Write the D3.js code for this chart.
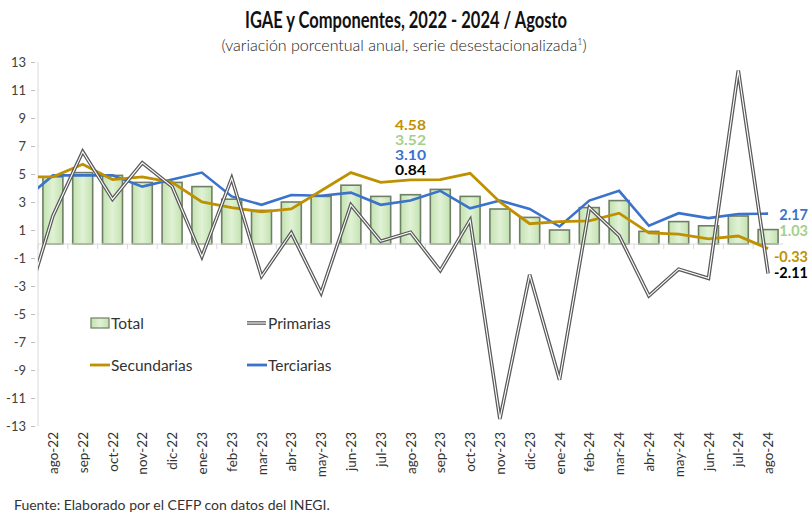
<!DOCTYPE html>
<html>
<head>
<meta charset="utf-8">
<script src="https://cdn.jsdelivr.net/npm/d3@7"></script>
<style>
  body { margin: 0; background: #fff; }
  svg text { font-family: "Lato", "Open Sans", sans-serif; }
</style>
</head>
<body>
<div id="chart"></div>
<script>
// meses (ago-22 .. ago-24)
var months = ["ago-22","sep-22","oct-22","nov-22","dic-22","ene-23","feb-23","mar-23","abr-23","may-23",
  "jun-23","jul-23","ago-23","sep-23","oct-23","nov-23","dic-23","ene-24","feb-24","mar-24",
  "abr-24","may-24","jun-24","jul-24","ago-24"];

// IGAE total (barras)
var total = [4.8, 5.1, 4.9, 4.4, 4.4, 4.1, 3.2, 2.4, 3.0, 3.4,
  4.2, 3.4, 3.52, 3.9, 3.4, 2.5, 1.9, 1.0, 2.6, 3.1,
  0.9, 1.6, 1.3, 2.0, 1.03];

// lineas: primer valor = jul-22 (sale recortado por el borde izquierdo)
var primarias = [-5.0, 2.0, 6.6, 3.2, 5.8, 4.1, -0.9, 4.7, -2.3, 0.8, -3.5,
  2.8, 0.2, 0.84, -1.9, 1.7, -12.5, -2.2, -9.7, 2.6, 0.6,
  -3.7, -1.8, -2.45, 12.4, -2.11];
var secundarias = [4.8, 4.8, 5.7, 4.6, 4.8, 4.4, 3.0, 2.6, 2.3, 2.5, 3.8,
  5.1, 4.4, 4.58, 4.6, 5.05, 3.0, 1.45, 1.6, 1.65, 2.2,
  0.8, 0.7, 0.36, 0.57, -0.33];
var terciarias = [3.1, 4.9, 4.9, 4.9, 4.1, 4.6, 5.1, 3.4, 2.8, 3.5, 3.45,
  3.67, 2.8, 3.10, 3.8, 2.55, 3.1, 2.5, 1.25, 3.1, 3.8,
  1.3, 2.2, 1.85, 2.14, 2.17];

var yTicks = [13, 11, 9, 7, 5, 3, 1, -1, -3, -5, -7, -9, -11, -13];

var W = 812, H = 514;
var C_GOLD = "#bf9000", C_BLUE = "#3a72cc", C_GREEN_TXT = "#a3d08a", C_DARK = "#595959";

var svg = d3.select("#chart").append("svg")
  .attr("width", W)
  .attr("height", H);

var defs = svg.append("defs");
var grad = defs.append("linearGradient")
  .attr("id", "barGrad")
  .attr("x1", 0).attr("x2", 1).attr("y1", 0).attr("y2", 0);
grad.append("stop").attr("offset", "0%").attr("stop-color", "#c3e2b0");
grad.append("stop").attr("offset", "50%").attr("stop-color", "#e0f2d5");
grad.append("stop").attr("offset", "100%").attr("stop-color", "#c3e2b0");

var left = 38, right = 783;

var x = d3.scaleBand()
  .domain(months)
  .range([left, right])
  .paddingInner(0.33)
  .paddingOuter(0.165);

var y = d3.scaleLinear()
  .domain([-13, 13])
  .range([426, 62]);

var step = x.step();
function cx(i) {
  // i = 0 es jul-22, un paso antes del primer mes
  if (i === 0) return x(months[0]) + x.bandwidth() / 2 - step;
  return x(months[i - 1]) + x.bandwidth() / 2;
}

defs.append("clipPath").attr("id", "plotClip")
  .append("rect")
  .attr("x", left).attr("y", 40)
  .attr("width", W - left).attr("height", 420);

// titulo
svg.append("text")
  .attr("x", 406).attr("y", 28)
  .attr("text-anchor", "middle")
  .attr("textLength", 322)
  .attr("lengthAdjust", "spacingAndGlyphs")
  .style("font-size", "22px")
  .style("font-weight", 700)
  .style("fill", "#111")
  .text("IGAE y Componentes, 2022 - 2024 / Agosto");

svg.append("text")
  .attr("x", 404).attr("y", 51)
  .attr("text-anchor", "middle")
  .style("font-size", "16px")
  .style("font-weight", 300)
  .style("fill", "#222")
  .html("(variación porcentual anual, serie desestacionalizada<tspan dy='-6' style='font-size:9px'>1</tspan><tspan dy='6'>)</tspan>");

// eje y
var yAxis = d3.axisLeft(y)
  .tickValues(yTicks)
  .tickSize(4)
  .tickPadding(5)
  .tickFormat(function(d) { return String(d); });

var gy = svg.append("g")
  .attr("transform", "translate(" + (left - 3) + ",0)")
  .call(yAxis);
gy.select(".domain").remove();
gy.selectAll(".tick line").attr("stroke", "#bfbfbf");
gy.selectAll(".tick text")
  .style("font-size", "13px")
  .style("fill", "#404040");

svg.append("line")
  .attr("x1", left).attr("x2", left)
  .attr("y1", y(13)).attr("y2", y(-13))
  .attr("stroke", "#d9d9d9");

// barras
svg.selectAll(".bar")
  .data(total)
  .enter().append("rect")
  .attr("class", "bar")
  .attr("x", function(d, i) { return x(months[i]); })
  .attr("width", x.bandwidth())
  .attr("y", function(d) { return y(Math.max(0, d)); })
  .attr("height", function(d) { return Math.abs(y(d) - y(0)); })
  .attr("fill", "url(#barGrad)")
  .attr("stroke", "#6f7f66")
  .attr("stroke-width", 1.6);

// eje x en cero
svg.append("line")
  .attr("x1", left).attr("x2", right)
  .attr("y1", y(0)).attr("y2", y(0))
  .attr("stroke", "#d9d9d9");

svg.selectAll(".xtick")
  .data(months)
  .enter().append("line")
  .attr("class", "xtick")
  .attr("x1", function(d) { return x(d) + x.bandwidth() / 2 - step / 2; })
  .attr("x2", function(d) { return x(d) + x.bandwidth() / 2 - step / 2; })
  .attr("y1", y(0)).attr("y2", y(0) + 5)
  .attr("stroke", "#d9d9d9");

// etiquetas de meses
svg.selectAll(".xlab")
  .data(months)
  .enter().append("text")
  .attr("class", "xlab")
  .attr("transform", function(d) {
    return "translate(" + (x(d) + x.bandwidth() / 2 + 5) + ",432) rotate(-90)";
  })
  .attr("text-anchor", "end")
  .style("font-size", "13.5px")
  .style("fill", "#333")
  .text(function(d) { return d; });

// lineas
var line = d3.line()
  .x(function(d, i) { return cx(i); })
  .y(function(d) { return y(d); });

var lines = svg.append("g").attr("clip-path", "url(#plotClip)");

lines.append("path")
  .datum(terciarias)
  .attr("d", line)
  .attr("fill", "none")
  .attr("stroke", C_BLUE)
  .attr("stroke-width", 2.6);

lines.append("path")
  .datum(secundarias)
  .attr("d", line)
  .attr("fill", "none")
  .attr("stroke", C_GOLD)
  .attr("stroke-width", 2.8);

lines.append("path")
  .datum(primarias)
  .attr("d", line)
  .attr("fill", "none")
  .attr("stroke", C_DARK)
  .attr("stroke-width", 3.6);

lines.append("path")
  .datum(primarias)
  .attr("d", line)
  .attr("fill", "none")
  .attr("stroke", "#fff")
  .attr("stroke-width", 1.1);

// etiquetas ago-23
var mid = x("ago-23") + x.bandwidth() / 2;
var midLabels = [
  {t: secundarias[13].toFixed(2), c: C_GOLD, y: 130},
  {t: total[12].toFixed(2), c: C_GREEN_TXT, y: 145},
  {t: terciarias[13].toFixed(2), c: C_BLUE, y: 160},
  {t: primarias[13].toFixed(2), c: "#000", y: 175}
];
svg.selectAll(".midlab")
  .data(midLabels)
  .enter().append("text")
  .attr("class", "midlab")
  .attr("x", mid)
  .attr("y", function(d) { return d.y; })
  .attr("text-anchor", "middle")
  .attr("textLength", 31)
  .attr("lengthAdjust", "spacingAndGlyphs")
  .style("font-size", "12.5px")
  .style("font-weight", 700)
  .style("fill", function(d) { return d.c; })
  .text(function(d) { return d.t; });

// etiquetas finales
var n = months.length;
var endLabels = [
  {t: terciarias[n].toFixed(2), c: C_BLUE, y: 220},
  {t: total[n - 1].toFixed(2), c: C_GREEN_TXT, y: 236},
  {t: secundarias[n].toFixed(2), c: C_GOLD, y: 262},
  {t: primarias[n].toFixed(2), c: "#000", y: 278}
];
svg.selectAll(".endlab")
  .data(endLabels)
  .enter().append("text")
  .attr("class", "endlab")
  .attr("x", 808)
  .attr("y", function(d) { return d.y; })
  .attr("text-anchor", "end")
  .style("font-size", "14.5px")
  .style("font-weight", 700)
  .style("fill", function(d) { return d.c; })
  .text(function(d) { return d.t; });

// leyenda
var legend = svg.append("g");
var items = [
  {name: "Total", type: "bar", x: 90, y: 323},
  {name: "Primarias", type: "prim", x: 247, y: 323},
  {name: "Secundarias", type: "line", c: C_GOLD, x: 90, y: 365},
  {name: "Terciarias", type: "line", c: C_BLUE, x: 247, y: 365}
];
items.forEach(function(it) {
  if (it.type === "bar") {
    legend.append("rect")
      .attr("x", it.x + 1).attr("y", it.y - 5)
      .attr("width", 18).attr("height", 10)
      .attr("fill", "url(#barGrad)")
      .attr("stroke", "#6f7f66")
      .attr("stroke-width", 1.2);
  } else if (it.type === "prim") {
    legend.append("line")
      .attr("x1", it.x).attr("x2", it.x + 19)
      .attr("y1", it.y).attr("y2", it.y)
      .attr("stroke", C_DARK).attr("stroke-width", 3.6);
    legend.append("line")
      .attr("x1", it.x).attr("x2", it.x + 19)
      .attr("y1", it.y).attr("y2", it.y)
      .attr("stroke", "#fff").attr("stroke-width", 1.1);
  } else {
    legend.append("line")
      .attr("x1", it.x).attr("x2", it.x + 20)
      .attr("y1", it.y).attr("y2", it.y)
      .attr("stroke", it.c).attr("stroke-width", 2.8);
  }
  legend.append("text")
    .attr("x", it.x + 21).attr("y", it.y + 5.5)
    .style("font-size", "15.5px")
    .style("fill", "#333")
    .text(it.name);
});

// fuente
svg.append("text")
  .attr("x", 14).attr("y", 510)
  .style("font-size", "14px")
  .style("fill", "#333")
  .text("Fuente: Elaborado por el CEFP con datos del INEGI.");
</script>
</body>
</html>
